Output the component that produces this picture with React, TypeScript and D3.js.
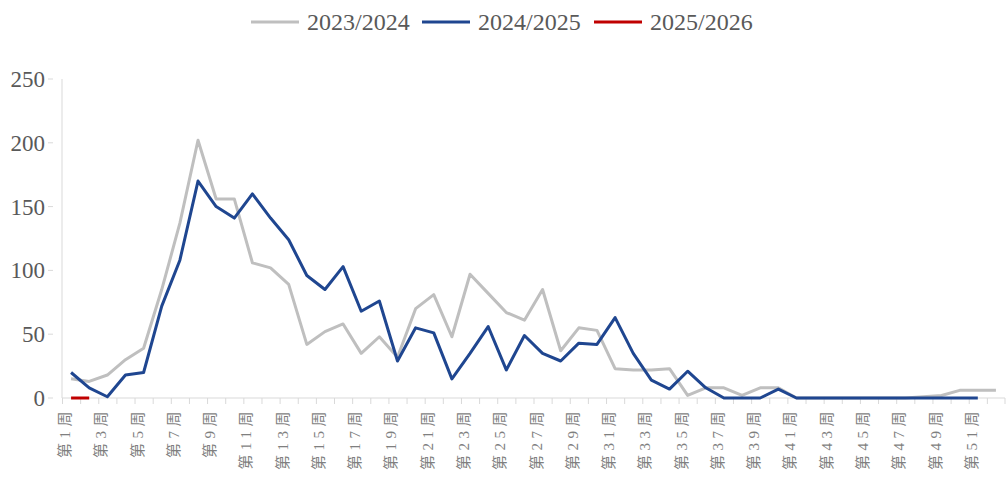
import React from "react";
import * as d3 from "d3";

const weeks = Array.from({ length: 52 }, (_, i) => `第${i + 1}周`);

const season2324 = [
  15, 13, 18, 30, 39, 85, 137, 202, 156, 156,
  106, 102, 89, 42, 52, 58, 35, 48, 32, 70,
  81, 48, 97, 82, 67, 61, 85, 37, 55, 53,
  23, 22, 22, 23, 2, 8, 8, 2, 8, 8,
  0, 0, 0, 0, 0, 0, 0, 1, 2, 6,
  6, 6,
];
const season2425 = [
  20, 8, 1, 18, 20, 72, 108, 170, 150, 141,
  160, 141, 124, 96, 85, 103, 68, 76, 29, 55,
  51, 15, 35, 56, 22, 49, 35, 29, 43, 42,
  63, 35, 14, 7, 21, 8, 0, 0, 0, 7,
  0, 0, 0, 0, 0, 0, 0, 0, 0, 0,
  0,
];
const season2526 = [0, 0];

const seriesNames = ["2023/2024", "2024/2025", "2025/2026"];
const colors = ["#bfbfbf", "#1f4690", "#c00000"];
const yTicks = [0, 50, 100, 150, 200, 250];

const W = 1006;
const H = 482;
const serif = "'Liberation Serif', 'Times New Roman', 'Noto Sans CJK SC', serif";

export default function App() {
  const x = d3.scaleBand<string>().domain(weeks).range([62, 1005]).padding(0);
  const y = d3.scaleLinear().domain([0, 250]).range([398, 79]);
  const cx = (i: number) => (x(weeks[i]) ?? 0) + x.bandwidth() / 2;

  const line = d3
    .line<number>()
    .x((_, i) => cx(i))
    .y(d => y(d));

  const allSeries = [season2324, season2425, season2526];

  // legend layout
  const legendX = [251, 422, 594];

  return (
    <svg
      width={W}
      height={H}
      style={{ position: "absolute", left: 0, top: 0, background: "#fff" }}
    >
      {/* legend */}
      {seriesNames.map((name, i) => (
        <g key={name} transform={`translate(${legendX[i]},22)`}>
          <line x1={0} x2={48} y1={0} y2={0} stroke={colors[i]} strokeWidth={3} />
          <text
            x={56}
            y={0}
            dy="0.35em"
            fontFamily={serif}
            fontSize={24}
            fill="#595959"
          >
            {name}
          </text>
        </g>
      ))}

      {/* y axis */}
      <line x1={62} x2={62} y1={y(250)} y2={y(0)} stroke="#d9d9d9" strokeWidth={1} />
      {yTicks.map(t => (
        <g key={t}>
          <line x1={48} x2={53} y1={y(t)} y2={y(t)} stroke="#d9d9d9" />
          <text
            x={45}
            y={y(t)}
            dy="0.35em"
            textAnchor="end"
            fontFamily={serif}
            fontSize={23}
            fill="#595959"
          >
            {t}
          </text>
        </g>
      ))}

      {/* x axis */}
      <line x1={62} x2={1005} y1={y(0)} y2={y(0)} stroke="#d9d9d9" strokeWidth={1} />
      {weeks.map(w => (
        <line
          key={w}
          x1={(x(w) ?? 0) + 0.5}
          x2={(x(w) ?? 0) + 0.5}
          y1={y(0)}
          y2={y(0) + 6}
          stroke="#d9d9d9"
        />
      ))}
      <line x1={1005} x2={1005} y1={y(0)} y2={y(0) + 6} stroke="#d9d9d9" />
      {weeks.map((w, i) =>
        i % 2 === 0 ? (
          <text
            key={w}
            transform={`translate(${cx(i) - 1},${y(0) + 9}) rotate(-90)`}
            textAnchor="end"
            fontFamily={serif}
            fontSize={15}
            letterSpacing={4.5}
            fill="#7f7f7f"
          >
            {w}
          </text>
        ) : null
      )}

      {/* lines */}
      {allSeries.map((s, i) => (
        <path
          key={i}
          d={line(s) ?? ""}
          fill="none"
          stroke={colors[i]}
          strokeWidth={3}
          strokeLinejoin="round"
        />
      ))}
    </svg>
  );
}
